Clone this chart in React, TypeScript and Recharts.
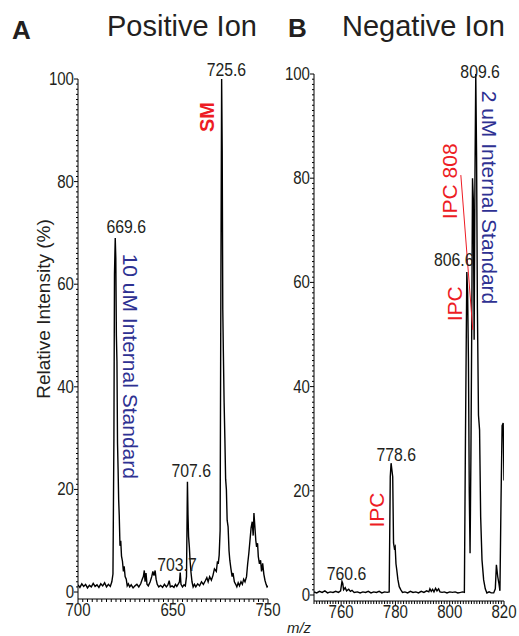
import { LineChart, Line, XAxis, YAxis, ReferenceDot, ReferenceLine } from "recharts";

const SANS = "'Liberation Sans', Arial, sans-serif";
const RED = "#ed1c24";
const NAVY = "#2e3192";
const INK = "#231f20";

// positive ion spectrum (m/z, relative intensity %)
const posMz = [
  650, 651, 652, 653, 654, 655, 656, 657, 658, 659, 660, 661, 662, 663, 664, 665, 666, 667,
  667.8, 668.4, 668.9, 669.2, 669.6, 669.9, 670.2, 670.5, 670.8, 671.1, 671.4, 671.7, 672.1,
  672.5, 672.9, 673.4, 673.9, 674.3, 674.8, 675.4, 675.9, 676.5, 677.2, 678, 679, 680, 681,
  682, 683, 683.8, 684.4, 684.9, 685.3, 685.8, 686.3, 687, 688, 688.8, 689.4, 690, 690.6,
  691.1, 691.7, 692.5, 693.5, 694.5, 695.5, 696.5, 697.3, 698, 698.6, 699.5, 700.5, 701.3,
  702, 702.8, 703.4, 703.8, 704.2, 705, 705.8, 706.5, 707.1, 707.6, 707.9, 708.2, 708.6,
  709, 709.5, 710, 710.6, 711.3, 712, 713, 714, 715, 716, 717, 717.8, 718.5, 719.3, 720.2,
  721, 721.8, 722.8, 723.4, 723.8, 724.3, 724.8, 725.2, 725.6, 725.9, 726.2, 726.5, 726.9,
  727.3, 727.7, 728.1, 728.5, 729, 729.5, 729.9, 730.5, 731.1, 731.6, 732.3, 733, 733.6,
  734.3, 735, 735.8, 736.5, 737.2, 737.9, 738.7, 739.3, 739.9, 740.5, 741.1, 741.7, 742.2,
  742.6, 743.1, 743.6, 744, 744.5, 744.9, 745.5, 746.1, 746.6, 747.2, 747.8, 748.4, 749,
  749.5, 750,
];
const posIntensity = [
  1.4, 0.9, 1.6, 1.1, 1.5, 0.8, 1.3, 1.0, 1.7, 1.1, 1.4, 0.9, 1.6, 1.2, 1.8, 1.0, 1.5, 1.1,
  2.0, 3.5, 30, 62, 69, 65, 50, 45, 29, 24, 18, 15, 9,
  10, 7, 6, 4, 5, 3, 2.5, 1.2, 1.6, 1.0, 1.4, 0.8, 1.2, 1.5,
  1.0, 1.6, 2.5, 3.0, 4.2, 2.0, 3.7, 1.5, 1.2, 2.0, 3.0, 4.0, 3.2, 4.2,
  2.5, 1.5, 1.0, 1.3, 0.9, 1.5, 1.0, 1.4, 2.2, 1.0, 1.2, 0.9, 1.5,
  1.1, 1.6, 2.0, 3.8, 1.5, 1.0, 1.4, 1.2, 3.0, 21.5, 15, 10.8, 8.8,
  6, 3.7, 2.0, 1.0, 1.5, 1.0, 1.6, 1.2, 2.0, 1.5, 2.2, 2.8, 2.0, 3.0, 2.3,
  3.2, 4.5, 4.0, 6.0, 5.5, 7.2, 12, 60, 100, 86, 55, 47, 37,
  30, 22, 20, 14, 12.7, 8, 6.2, 4.5, 3.0, 3.7, 2.0, 1.5, 1.0,
  1.8, 1.2, 2.0, 1.5, 2.5, 2.0, 3.0, 5.5, 7.5, 10, 12.5, 13.7, 11,
  15.4, 12.7, 10, 8.8, 9.5, 6.9, 5.5, 6.2, 4.0, 5.6, 3.5, 2.3, 1.5,
  1.0, 1.2,
];

// negative ion spectrum (m/z, relative intensity %)
const negMz = [
  750, 751, 752, 753, 754, 755, 756, 757, 758, 759, 759.8, 760.3, 760.6, 760.9, 761.5, 762,
  762.8, 763.4, 764, 764.8, 766, 767, 768, 769, 770, 771, 772, 773, 774, 775, 776, 777,
  777.7, 778.1, 778.4, 778.7, 779, 779.3, 779.6, 779.9, 780.2, 780.5, 780.9, 781.4, 782,
  782.6, 783.5, 784.5, 785.5, 786.5, 787.5, 788.5, 789.5, 790.5, 791.5, 792.3, 792.7, 793.2,
  793.7, 794.2, 794.8, 795.3, 795.9, 796.4, 797.2, 798, 799, 800, 801, 802, 803, 804, 804.8,
  805.4, 805.8, 806.3, 806.6, 806.9, 807.2, 807.5, 807.8, 808.1, 808.4, 808.7, 809, 809.3,
  809.6, 809.9, 810.2, 810.6, 811, 811.4, 811.9, 812.5, 813.1, 813.7, 814.5, 815.3, 816.2,
  816.8, 817.2, 817.7, 818.1, 818.5, 818.9, 819.3, 819.7, 820,
];
const negIntensity = [
  0.6, 0.4, 0.7, 0.5, 0.8, 0.4, 0.6, 0.5, 0.7, 0.5, 0.8, 2.6, 2.2, 1.0, 1.4, 0.8,
  1.1, 0.7, 0.9, 0.5, 0.6, 0.4, 0.6, 0.5, 0.7, 0.4, 0.6, 0.5, 0.7, 0.4, 0.6, 0.5,
  0.6, 22.7, 25.3, 24, 22.7, 10, 9.0, 9.3, 6, 4.8, 3, 1.6, 1.0,
  0.5, 0.6, 0.4, 0.7, 0.5, 0.6, 0.4, 0.7, 0.5, 0.8, 0.6, 1.2, 0.7,
  1.1, 0.6, 1.3, 0.8, 1.2, 0.6, 0.5, 0.6, 0.4, 0.6, 0.5, 0.6, 0.4, 0.5, 0.6,
  0.5, 30, 62, 58, 45, 20, 8, 26, 50, 80, 76, 49, 80,
  100, 84, 55, 34.5, 31.7, 15, 6.7, 2.9, 1.2, 0.4, 0.6, 0.4, 0.4,
  1.2, 5.8, 3.5, 2.3, 0.8, 18, 32.5, 33, 22,
];

// axis ticks
const yMajorTicks = [0, 20, 40, 60, 80, 100];
const posMajorTicks = [650, 700, 750];
const posTickLabels = ["700", "650", "750"];
const negMajorTicks = [760, 780, 800, 820];
const negTickLabels = ["760", "780", "800", "820"];

// text annotations, anchored in data units
const posNotes = [
  { text: "725.6", x: 728.1, y: 101.8, color: INK, rotate: 0, size: 19, narrow: true, bold: false },
  { text: "669.6", x: 675.4, y: 71.2, color: INK, rotate: 0, size: 19, narrow: true, bold: false },
  { text: "707.6", x: 709.6, y: 23.6, color: INK, rotate: 0, size: 19, narrow: true, bold: false },
  { text: "703.7", x: 702.1, y: 5.4, color: INK, rotate: 0, size: 19, narrow: true, bold: false },
  { text: "SM", x: 717.7, y: 92.6, color: RED, rotate: -90, size: 20, narrow: false, bold: true },
  { text: "10 uM Internal Standard", x: 677.5, y: 44, color: NAVY, rotate: 90, size: 21, narrow: false, bold: false },
];
const negNotes = [
  { text: "809.6", x: 811.2, y: 100.5, color: INK, rotate: 0, size: 19, narrow: true, bold: false },
  { text: "806.6", x: 801.5, y: 64.4, color: INK, rotate: 0, size: 19, narrow: true, bold: false },
  { text: "778.6", x: 780.3, y: 26.9, color: INK, rotate: 0, size: 19, narrow: true, bold: false },
  { text: "760.6", x: 762.0, y: 4.2, color: INK, rotate: 0, size: 19, narrow: true, bold: false },
  { text: "IPC 808", x: 800.1, y: 79.4, color: RED, rotate: -90, size: 21, narrow: false, bold: false },
  { text: "IPC", x: 801.7, y: 55.9, color: RED, rotate: -90, size: 21, narrow: false, bold: false },
  { text: "IPC", x: 773.2, y: 16.3, color: RED, rotate: -90, size: 21, narrow: false, bold: false },
  { text: "2 uM Internal Standard", x: 814.6, y: 76.3, color: NAVY, rotate: 90, size: 21, narrow: false, bold: false },
];
const ipcPointer = [
  { x: 804.1, y: 80.6 },
  { x: 808.5, y: 50.9 },
];

const posData = posMz.map((mz, i) => ({ mz, v: posIntensity[i] }));
const negData = negMz.map((mz, i) => ({ mz, v: negIntensity[i] }));

const range = (from: number, to: number, step: number) => {
  const out: number[] = [];
  for (let v = from; v <= to + 1e-9; v += step) out.push(Math.round(v * 100) / 100);
  return out;
};

// the figure uses a condensed face; squeeze the numbers to that width
const narrowWidth = (s: string, size: number) =>
  s.split("").reduce((w, c) => w + (c === "." ? 0.22 : 0.465) * size, 0);

const NarrowText = ({ text, size, ...rest }: any) => (
  <text
    fontFamily={SANS}
    fontSize={size}
    fill={INK}
    textLength={narrowWidth(text, size)}
    lengthAdjust="spacingAndGlyphs"
    {...rest}
  >
    {text}
  </text>
);

const makeXTick = (majors: number[], labels: string[]) => (props: any) => {
  const { x, y, payload } = props;
  const idx = majors.indexOf(payload.value);
  const major = idx >= 0;
  return (
    <g>
      <line x1={x} x2={x} y1={y} y2={y + (major ? 5 : 3)} stroke="#000" strokeWidth={1} />
      {major && <NarrowText x={x} y={y + 17} textAnchor="middle" size={18} text={labels[idx]} />}
    </g>
  );
};

const YTick = (props: any) => {
  const { x, y, payload } = props;
  const major = yMajorTicks.includes(payload.value);
  return (
    <g>
      <line x1={x} x2={x - (major ? 4 : 2)} y1={y} y2={y} stroke="#000" strokeWidth={1} />
      {major && (
        <NarrowText x={x - 4} y={y} textAnchor="end" dominantBaseline="central" size={18} text={String(payload.value)} />
      )}
    </g>
  );
};

const noteShape = (n: any) => (props: any) => {
  const { cx, cy } = props;
  if (n.narrow) {
    return <NarrowText x={cx} y={cy} textAnchor="middle" dominantBaseline="central" size={n.size} text={n.text} />;
  }
  return (
    <text
      x={cx}
      y={cy}
      textAnchor="middle"
      dominantBaseline="central"
      fontFamily={SANS}
      fontSize={n.size}
      fontWeight={n.bold ? "bold" : "normal"}
      fill={n.color}
      transform={n.rotate ? `rotate(${n.rotate}, ${cx}, ${cy})` : undefined}
    >
      {n.text}
    </text>
  );
};

interface SpectrumProps {
  data: { mz: number; v: number }[];
  left: number;
  width: number;
  top: number;
  axisY: number;
  yAxisWidth: number;
  right: number;
  xDomain: [number, number];
  yMin: number;
  xTicks: number[];
  majors: number[];
  labels: string[];
  notes: any[];
  children?: any;
}

function Spectrum(p: SpectrumProps) {
  return (
    <div style={{ position: "absolute", left: p.left, top: 0 }}>
      <LineChart
        width={p.width}
        height={636}
        data={p.data}
        margin={{ top: p.top, right: p.right, left: 0, bottom: 0 }}
      >
        <XAxis
          dataKey="mz"
          type="number"
          domain={p.xDomain}
          allowDataOverflow
          ticks={p.xTicks}
          interval={0}
          tickSize={0}
          tickMargin={0}
          tickLine={false}
          height={636 - p.axisY}
          axisLine={{ stroke: "#000", strokeWidth: 1 }}
          tick={makeXTick(p.majors, p.labels)}
        />
        <YAxis
          type="number"
          domain={[p.yMin, 100]}
          allowDataOverflow
          ticks={range(0, 100, 1)}
          interval={0}
          tickSize={0}
          tickMargin={0}
          tickLine={false}
          width={p.yAxisWidth}
          axisLine={{ stroke: "#000", strokeWidth: 1 }}
          tick={YTick}
        />
        <Line
          type="linear"
          dataKey="v"
          stroke="#000"
          strokeWidth={1.4}
          dot={false}
          isAnimationActive={false}
        />
        {p.children}
        {p.notes.map((n, i) => (
          <ReferenceDot key={i} x={n.x} y={n.y} r={1} ifOverflow="visible" shape={noteShape(n)} />
        ))}
      </LineChart>
    </div>
  );
}

export default function App() {
  return (
    <div style={{ position: "absolute", left: 0, top: 0, width: 519, height: 636, background: "#fff" }}>
      <Spectrum
        data={posData}
        left={0}
        width={300}
        top={79}
        axisY={599}
        yAxisWidth={78}
        right={32}
        xDomain={[650, 750]}
        yMin={-1.36}
        xTicks={range(650, 750, 2.5)}
        majors={posMajorTicks}
        labels={posTickLabels}
        notes={posNotes}
      />
      <Spectrum
        data={negData}
        left={270}
        width={249}
        top={74}
        axisY={601}
        yAxisWidth={44}
        right={15}
        xDomain={[750, 820]}
        yMin={-1.15}
        xTicks={range(750, 820, 1)}
        majors={negMajorTicks}
        labels={negTickLabels}
        notes={negNotes}
      >
        <ReferenceLine segment={ipcPointer} stroke={RED} strokeWidth={1} ifOverflow="visible" />
      </Spectrum>
      <svg width={519} height={636} style={{ position: "absolute", left: 0, top: 0, pointerEvents: "none" }}>
        <text x={12} y={39} fontFamily={SANS} fontWeight="bold" fontSize={26} fill={INK}>A</text>
        <text x={107} y={36} fontFamily={SANS} fontSize={29} fill={INK}>Positive Ion</text>
        <text x={288} y={37} fontFamily={SANS} fontWeight="bold" fontSize={26} fill={INK}>B</text>
        <text x={342} y={36} fontFamily={SANS} fontSize={29} fill={INK}>Negative Ion</text>
        <text
          x={43}
          y={309}
          textAnchor="middle"
          dominantBaseline="central"
          fontFamily={SANS}
          fontSize={19}
          fill={INK}
          transform="rotate(-90, 43, 309)"
        >
          Relative Intensity (%)
        </text>
        <text x={299} y={633} textAnchor="middle" fontFamily={SANS} fontStyle="italic" fontSize={15} fill={INK}>
          m/z
        </text>
      </svg>
    </div>
  );
}
